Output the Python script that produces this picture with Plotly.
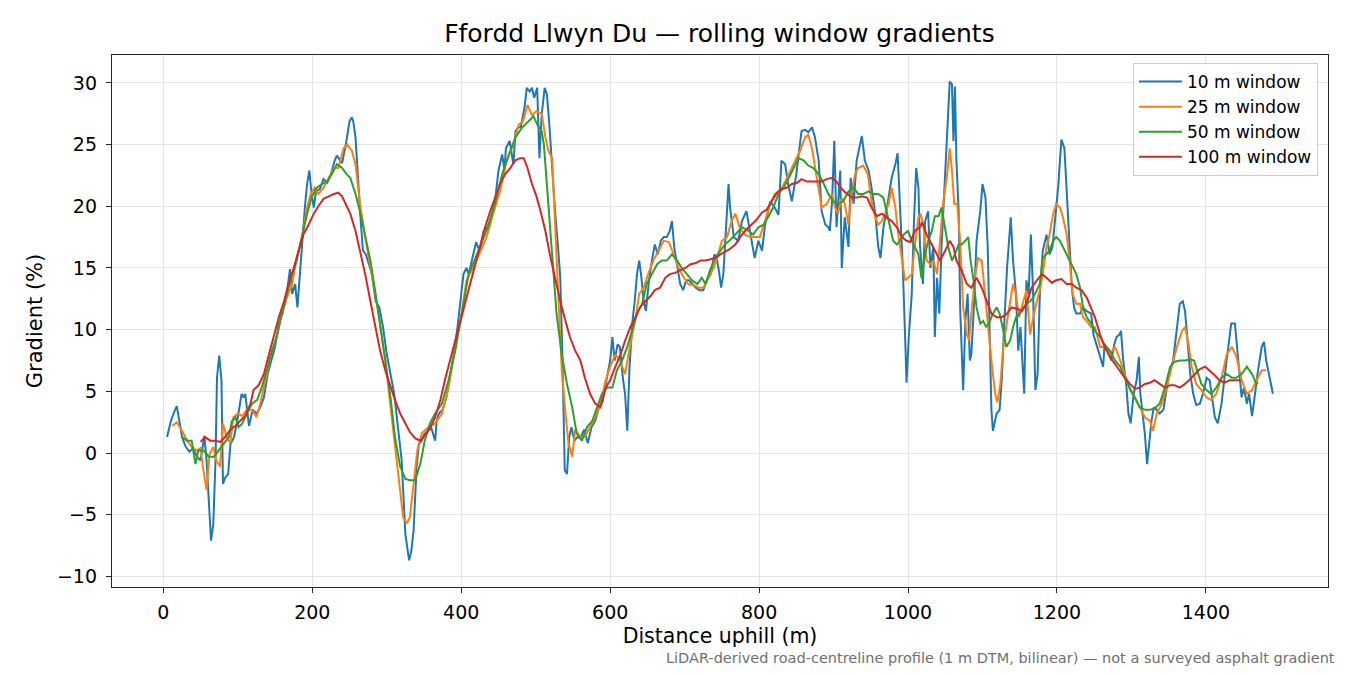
import plotly.graph_objects as go

# distance (m) / gradient (%), one pair of lists per window
d10 = [5, 10, 15, 18, 22, 25, 30, 35, 40, 45, 50, 55, 58, 62, 64, 67, 70, 72, 75, 78, 80, 83, 87, 90, 95,
       100, 105, 108, 110, 113, 115, 120, 125, 130, 135, 140, 145, 150, 155, 160, 165, 170, 173, 177, 180,
       183, 186, 190, 193, 196, 199, 202, 205, 210, 215, 220, 225, 230, 233, 237, 240, 245, 250, 253, 255,
       258, 262, 265, 268, 272, 276, 280, 285, 290, 295, 300, 310, 320, 325, 330, 333, 336, 340, 343, 347,
       350, 355, 360, 365, 367, 370, 375, 380, 385, 390, 395, 400, 403, 407, 410, 415, 420, 425, 430, 435,
       440, 445, 450, 455, 458, 460, 465, 470, 473, 477, 480, 485, 488, 492, 495, 498, 502, 505, 508, 512,
       515, 518, 522, 526, 530, 533, 536, 539, 542, 545, 548, 552, 556, 560, 565, 570, 575, 580, 585, 590,
       595, 600, 603, 606, 610, 613, 617, 620, 623, 626, 630, 633, 636, 639, 642, 645, 648, 652, 656, 660,
       664, 668, 672, 676, 680, 683, 686, 690, 694, 698, 702, 706, 710, 715, 720, 725, 730, 735, 740, 743,
       746, 749, 752, 757, 759, 761, 766, 772, 777, 783, 788, 794, 799, 804, 808, 815, 821, 826, 830, 835,
       839, 844, 850, 857, 862, 866, 871, 875, 880, 884, 889, 893, 895, 898, 901, 904, 909, 911, 915, 920,
       923, 927, 931, 938, 942, 947, 951, 956, 960, 963, 967, 971, 978, 983, 986, 989, 993, 996, 998, 1001,
       1005, 1008, 1011, 1014, 1016, 1020, 1023, 1027, 1030, 1034, 1036, 1039, 1042, 1045, 1048, 1052, 1056,
       1059, 1061, 1063, 1065, 1068, 1070, 1074, 1077, 1080, 1083, 1085, 1088, 1092, 1097, 1100, 1104, 1107,
       1109, 1112, 1114, 1119, 1123, 1126, 1129, 1133, 1138, 1141, 1145, 1148, 1151, 1154, 1156, 1159, 1162,
       1165, 1168, 1171, 1174, 1177, 1181, 1186, 1190, 1194, 1199, 1202, 1204, 1206, 1210, 1213, 1217, 1220,
       1223, 1226, 1231, 1235, 1240, 1246, 1249, 1253, 1258, 1262, 1264, 1269, 1273, 1277, 1280, 1284, 1286,
       1289, 1293, 1296, 1299, 1303, 1307, 1310, 1312, 1315, 1318, 1321, 1324, 1327, 1330, 1334, 1338, 1343,
       1347, 1352, 1356, 1361, 1365, 1369, 1372, 1375, 1379, 1383, 1387, 1392, 1396, 1401, 1405, 1407, 1412,
       1416, 1421, 1425, 1430, 1434, 1439, 1443, 1448, 1451, 1455, 1458, 1462, 1466, 1470, 1475, 1478, 1481,
       1485, 1490]
g10 = [1.3, 2.6, 3.4, 3.8, 2.4, 1.3, 0.5, 0.1, 0.4, -0.3, -0.6, 1.4, -0.6, -5.5, -7.1, -5.8, -0.6, 6.1, 7.9,
       5.9, -2.5, -2.0, -1.7, 0.7, 1.3, 2.9, 4.8, 4.5, 4.8, 3.2, 2.2, 3.5, 3.2, 3.7, 4.5, 6.4, 7.5, 8.6, 10.5,
       11.3, 12.6, 14.9, 12.9, 13.7, 11.8, 14.5, 16.7, 19.9, 21.8, 22.9, 21.0, 19.9, 21.2, 21.4, 22.2, 21.9,
       22.6, 23.7, 24.1, 23.7, 23.5, 25.0, 26.9, 27.2, 26.9, 25.6, 21.5, 18.8, 16.4, 16.1, 15.3, 14.5, 12.3,
       11.8, 10.2, 8.0, 4.8, -0.6, -6.6, -8.7, -7.9, -6.3, -1.2, 0.7, 1.0, 1.5, 1.8, 2.0, 1.0, 2.6, 3.2, 3.5,
       4.5, 6.1, 8.0, 10.2, 12.9, 14.5, 15.0, 14.5, 15.8, 17.1, 16.3, 18.0, 18.3, 19.1, 20.2, 22.9, 24.2, 22.9,
       24.7, 25.3, 23.4, 26.1, 26.4, 26.4, 28.0, 29.6, 29.3, 29.6, 28.8, 29.6, 23.9, 27.4, 29.6, 29.1, 26.9,
       22.9, 19.6, 16.7, 14.2, 7.5, -1.4, -1.7, 1.3, 2.1, 1.0, 1.3, 1.2, 1.9, 0.8, 2.1, 2.6, 3.7, 4.2, 5.9,
       7.5, 9.4, 7.5, 8.8, 8.6, 6.1, 4.8, 1.8, 7.0, 10.7, 12.3, 14.5, 15.6, 14.2, 12.3, 11.5, 13.9, 15.6, 16.9,
       16.1, 17.2, 17.5, 17.5, 18.0, 18.8, 16.7, 15.0, 13.7, 13.2, 14.0, 14.0, 13.7, 13.4, 13.2, 13.2, 14.0,
       14.5, 16.1, 15.8, 14.8, 13.4, 14.5, 20.2, 21.8, 19.9, 17.5, 17.2, 18.8, 19.6, 17.7, 15.8, 17.2, 16.4,
       18.5, 20.4, 19.9, 19.3, 23.7, 23.4, 21.8, 20.4, 22.6, 26.1, 26.2, 26.0, 26.4, 25.6, 23.7, 19.6, 18.5,
       18.3, 18.0, 20.4, 25.3, 18.3, 22.9, 15.0, 19.1, 16.7, 22.3, 20.2, 23.7, 25.7, 23.7, 22.9, 21.5, 19.4,
       16.7, 15.8, 18.3, 19.6, 22.3, 23.4, 24.3, 20.4, 15.0, 9.6, 5.7, 9.4, 12.9, 18.8, 23.1, 21.5, 16.9, 13.7,
       18.8, 19.6, 15.0, 16.7, 9.4, 14.2, 11.3, 16.7, 20.4, 25.0, 30.1, 29.9, 25.3, 29.7, 23.7, 19.6, 11.8,
       5.1, 10.7, 12.9, 7.5, 8.0, 11.3, 17.2, 19.6, 21.8, 20.7, 16.7, 10.2, 3.5, 1.8, 3.2, 3.5, 6.1, 10.2,
       15.0, 19.1, 15.6, 12.9, 8.3, 10.2, 7.5, 4.8, 14.0, 12.9, 17.7, 12.9, 5.1, 6.4, 12.9, 16.4, 17.7, 16.1,
       16.7, 19.6, 21.8, 23.7, 25.4, 24.7, 21.0, 16.4, 13.4, 11.8, 11.3, 11.3, 11.8, 11.5, 11.3, 9.6, 8.8,
       8.0, 7.0, 8.8, 8.3, 7.5, 8.8, 9.4, 9.6, 9.9, 7.5, 5.6, 3.2, 2.4, 4.8, 5.9, 7.8, 4.8, 3.2, 1.6, -0.9,
       0.8, 2.6, 3.7, 3.5, 3.2, 3.5, 5.1, 6.7, 7.5, 10.2, 12.1, 12.3, 11.5, 9.4, 6.4, 4.8, 3.9, 4.0, 4.8, 6.1,
       5.9, 5.1, 2.9, 2.4, 4.0, 6.1, 8.6, 10.5, 10.5, 7.5, 4.5, 5.3, 4.0, 4.8, 3.0, 4.8, 6.7, 8.6, 9.0, 7.5,
       6.4, 4.8]

d25 = [12, 18, 25, 32, 38, 45, 50, 53, 58, 62, 67, 71, 76, 80, 85, 90, 94, 100, 106, 112, 119, 125, 130,
       137, 144, 153, 159, 166, 173, 179, 186, 193, 198, 203, 208, 215, 222, 229, 235, 242, 247, 253, 258,
       264, 271, 280, 289, 298, 307, 316, 322, 327, 331, 336, 341, 347, 356, 365, 374, 383, 392, 401, 407,
       416, 425, 434, 443, 452, 461, 470, 477, 483, 489, 495, 501, 508, 513, 517, 522, 526, 530, 535, 540,
       544, 549, 553, 560, 566, 573, 580, 587, 594, 600, 607, 613, 620, 627, 634, 639, 645, 651, 658, 665,
       672, 679, 685, 692, 699, 705, 712, 719, 725, 732, 739, 745, 750, 757, 763, 768, 774, 781, 788, 795,
       801, 808, 815, 821, 828, 835, 842, 849, 855, 862, 866, 871, 875, 880, 884, 891, 898, 902, 906, 911,
       915, 920, 924, 929, 933, 940, 946, 951, 956, 960, 965, 969, 974, 978, 983, 987, 992, 996, 1000, 1005,
       1009, 1014, 1017, 1021, 1025, 1030, 1034, 1039, 1043, 1047, 1052, 1056, 1059, 1062, 1066, 1070, 1074,
       1079, 1082, 1085, 1090, 1094, 1099, 1103, 1108, 1112, 1117, 1120, 1124, 1128, 1133, 1137, 1141, 1145,
       1149, 1154, 1159, 1164, 1168, 1173, 1177, 1181, 1186, 1190, 1195, 1199, 1204, 1208, 1213, 1217, 1221,
       1226, 1231, 1235, 1240, 1246, 1251, 1258, 1264, 1271, 1278, 1285, 1291, 1298, 1305, 1311, 1318, 1325,
       1329, 1334, 1341, 1347, 1354, 1361, 1368, 1372, 1376, 1381, 1387, 1394, 1401, 1407, 1414, 1421, 1428,
       1435, 1441, 1448, 1455, 1462, 1468, 1475, 1481]
g25 = [2.2, 2.5, 1.8, 1.0, 0.5, 0.2, 0.4, -1.1, -3.0, -0.1, 0.5, -0.6, -1.1, 2.4, 1.3, 0.8, 2.9, 3.2, 3.0,
       3.5, 3.5, 2.9, 4.0, 5.9, 7.8, 9.6, 11.3, 12.6, 13.7, 15.8, 17.5, 19.9, 21.0, 21.5, 21.0, 21.5, 22.3,
       23.1, 23.1, 24.7, 25.0, 24.5, 23.4, 20.2, 17.5, 14.5, 11.3, 7.5, 2.6, -2.2, -5.2, -5.7, -5.2, -2.5,
       0.2, 1.6, 2.1, 2.4, 3.2, 5.3, 8.6, 11.5, 14.0, 15.0, 16.3, 17.5, 19.4, 21.2, 23.7, 25.0, 26.6, 26.9,
       28.2, 27.4, 27.7, 27.5, 25.6, 24.5, 23.9, 18.8, 12.9, 6.7, 3.2, 0.8, -0.3, 1.9, 1.3, 1.3, 2.1, 2.9,
       4.0, 5.9, 7.0, 8.0, 7.5, 6.4, 8.8, 10.9, 12.9, 13.4, 14.5, 15.6, 16.4, 17.2, 17.1, 16.1, 15.0, 14.2,
       13.7, 13.6, 13.4, 13.4, 14.2, 15.0, 16.1, 17.2, 17.5, 18.8, 19.4, 18.3, 17.7, 17.5, 17.5, 17.5, 18.8,
       20.2, 21.0, 21.2, 22.0, 22.9, 23.7, 24.5, 25.6, 25.8, 24.7, 23.1, 21.5, 19.9, 20.2, 21.0, 19.9, 19.4,
       20.7, 20.2, 18.5, 21.0, 22.6, 23.1, 23.3, 22.6, 20.4, 19.1, 18.5, 18.8, 19.4, 20.2, 21.5, 19.9, 17.7,
       15.6, 14.0, 14.2, 14.5, 16.7, 19.1, 19.4, 18.3, 15.6, 15.3, 15.6, 14.5, 17.2, 20.2, 22.3, 24.7, 22.9,
       20.2, 20.2, 17.2, 11.8, 9.6, 9.1, 11.3, 14.2, 15.8, 15.6, 12.9, 10.2, 7.5, 4.8, 4.1, 5.6, 8.6, 10.7,
       12.3, 13.7, 12.9, 11.0, 12.1, 13.2, 9.6, 11.0, 12.3, 13.2, 14.5, 16.7, 17.7, 19.4, 20.2, 19.9, 19.1,
       17.7, 15.6, 12.9, 12.1, 12.1, 11.0, 10.7, 10.2, 10.2, 8.6, 8.6, 8.0, 8.6, 7.5, 6.4, 5.1, 4.5, 3.7, 2.9,
       2.6, 1.8, 3.2, 4.0, 5.3, 7.0, 8.6, 9.9, 10.2, 9.1, 7.0, 5.6, 5.1, 4.5, 4.3, 4.8, 6.1, 8.0, 8.6, 7.8,
       5.9, 4.8, 5.1, 5.9, 6.7, 6.7]

d50 = [25, 32, 38, 43, 47, 54, 61, 68, 74, 81, 88, 92, 97, 101, 106, 112, 119, 126, 132, 139, 146, 153, 159,
       166, 173, 179, 186, 193, 199, 206, 213, 220, 226, 233, 240, 246, 251, 258, 264, 271, 278, 285, 291,
       298, 305, 311, 318, 325, 331, 338, 345, 351, 358, 365, 374, 383, 392, 401, 410, 419, 428, 437, 446,
       455, 464, 473, 482, 490, 497, 503, 508, 511, 515, 520, 524, 528, 535, 542, 549, 555, 562, 569, 576,
       582, 589, 596, 603, 609, 616, 623, 629, 636, 643, 649, 656, 663, 669, 676, 683, 690, 696, 703, 710,
       717, 723, 728, 734, 741, 748, 754, 760, 768, 777, 786, 792, 799, 806, 812, 819, 826, 833, 840, 846,
       853, 860, 866, 873, 880, 887, 893, 900, 906, 913, 920, 927, 933, 940, 947, 953, 960, 967, 971, 976,
       980, 985, 989, 994, 1000, 1005, 1009, 1014, 1018, 1023, 1027, 1032, 1036, 1041, 1045, 1050, 1054,
       1059, 1063, 1068, 1072, 1077, 1081, 1084, 1088, 1092, 1097, 1101, 1105, 1110, 1114, 1119, 1123, 1128,
       1132, 1137, 1141, 1145, 1150, 1155, 1159, 1164, 1168, 1173, 1177, 1181, 1186, 1190, 1195, 1199, 1204,
       1208, 1213, 1217, 1222, 1226, 1231, 1235, 1240, 1246, 1251, 1258, 1264, 1271, 1278, 1285, 1291, 1298,
       1305, 1311, 1318, 1325, 1331, 1338, 1345, 1352, 1358, 1365, 1372, 1379, 1384, 1388, 1394, 1401, 1407,
       1414, 1421, 1428, 1435, 1441, 1448, 1455, 1462, 1468, 1470]
g50 = [1.3, 1.0, 1.0, -0.9, 0.2, 0.2, -0.3, -0.3, 0.2, 0.8, 1.3, 2.6, 2.9, 2.1, 2.4, 3.2, 4.0, 4.3, 5.3, 6.7,
       8.3, 9.6, 11.3, 12.9, 14.5, 15.6, 17.5, 19.4, 20.7, 21.5, 21.8, 22.0, 22.6, 23.4, 23.1, 22.6, 22.3,
       21.0, 19.6, 17.7, 15.6, 12.9, 10.2, 7.5, 4.5, 1.3, -1.1, -2.1, -2.2, -2.2, -0.9, 1.0, 2.4, 3.2, 4.0,
       5.9, 8.3, 11.3, 14.5, 15.8, 17.2, 18.5, 20.4, 22.6, 24.2, 25.6, 26.4, 26.9, 27.3, 26.5, 26.1, 25.0,
       21.8, 18.5, 14.5, 11.3, 8.0, 5.6, 3.7, 1.6, 1.0, 2.1, 2.6, 3.7, 4.8, 5.3, 5.3, 6.7, 7.5, 8.6, 9.9, 11.3,
       12.1, 13.7, 14.5, 15.3, 15.6, 15.6, 16.1, 15.6, 15.0, 14.5, 14.0, 13.7, 14.2, 13.7, 14.8, 15.8, 16.4,
       16.9, 17.2, 17.7, 18.3, 18.0, 17.7, 18.3, 18.5, 19.1, 19.9, 21.0, 21.5, 22.3, 23.1, 23.9, 23.7, 23.3,
       23.1, 22.6, 21.8, 21.0, 20.4, 20.2, 20.4, 21.2, 21.5, 21.0, 21.0, 21.2, 21.0, 21.0, 20.7, 19.6, 18.3,
       17.2, 16.9, 17.2, 17.7, 18.0, 17.2, 16.7, 16.1, 14.2, 16.1, 17.2, 18.0, 19.2, 19.2, 19.9, 18.0, 16.7,
       15.6, 16.1, 16.9, 16.9, 17.2, 17.5, 15.6, 14.0, 11.8, 10.5, 10.7, 10.2, 10.7, 11.3, 11.8, 11.3, 9.9,
       8.6, 9.1, 10.2, 11.0, 11.3, 11.8, 12.1, 12.3, 12.6, 13.2, 13.7, 15.8, 16.1, 16.4, 17.2, 17.5, 17.2,
       16.7, 16.1, 15.6, 15.0, 14.5, 13.4, 11.8, 11.0, 10.5, 9.9, 9.4, 8.8, 8.3, 7.5, 7.0, 6.1, 5.3, 4.5, 3.7,
       3.5, 3.5, 3.6, 4.0, 5.3, 7.0, 7.4, 7.5, 7.5, 7.6, 7.5, 6.7, 5.6, 5.1, 4.8, 5.3, 6.1, 6.4, 6.1, 6.1,
       6.4, 7.0, 6.4, 5.6, 5.7]

d100 = [50, 56, 63, 70, 76, 83, 90, 97, 103, 110, 117, 121, 128, 135, 141, 148, 155, 162, 168, 175, 182, 188,
        195, 202, 208, 215, 222, 229, 235, 240, 247, 251, 258, 264, 271, 278, 285, 291, 298, 305, 311, 318,
        325, 331, 338, 345, 351, 358, 365, 372, 378, 385, 392, 399, 405, 412, 419, 425, 432, 439, 446, 452,
        459, 466, 472, 479, 484, 489, 495, 501, 507, 513, 519, 526, 533, 540, 546, 553, 560, 566, 573, 580,
        587, 594, 600, 607, 614, 620, 627, 634, 640, 647, 654, 660, 667, 674, 680, 687, 694, 701, 708, 715,
        721, 728, 735, 741, 748, 754, 760, 768, 777, 786, 795, 804, 810, 817, 824, 830, 837, 844, 851, 857,
        864, 871, 877, 884, 891, 898, 904, 911, 918, 925, 931, 938, 945, 951, 958, 965, 971, 978, 985, 992,
        998, 1003, 1009, 1016, 1019, 1025, 1032, 1039, 1043, 1050, 1056, 1061, 1065, 1072, 1079, 1085, 1092,
        1099, 1106, 1112, 1119, 1126, 1133, 1139, 1146, 1153, 1159, 1166, 1173, 1180, 1186, 1193, 1199, 1206,
        1213, 1220, 1226, 1233, 1240, 1246, 1251, 1258, 1264, 1271, 1278, 1285, 1291, 1298, 1305, 1311, 1318,
        1325, 1331, 1338, 1345, 1352, 1358, 1365, 1372, 1379, 1385, 1392, 1399, 1405, 1412, 1418, 1425, 1432,
        1439, 1446]
g100 = [0.9, 1.3, 1.0, 1.0, 0.9, 1.3, 1.9, 2.2, 2.6, 3.0, 4.0, 5.1, 5.5, 6.4, 7.8, 9.4, 11.0, 12.3, 13.7, 15.0,
        16.4, 17.7, 18.5, 19.4, 20.0, 20.6, 20.8, 21.0, 21.1, 20.8, 19.9, 19.4, 18.0, 16.4, 14.5, 12.3, 10.2,
        8.3, 6.7, 5.3, 4.3, 3.2, 2.4, 1.7, 1.2, 1.0, 1.4, 2.0, 2.9, 4.3, 5.9, 7.5, 9.1, 10.7, 12.3, 13.7, 15.3,
        16.7, 18.3, 19.6, 20.7, 21.8, 22.6, 23.1, 23.7, 23.9, 23.9, 23.1, 21.8, 20.8, 19.5, 18.0, 16.1, 14.2,
        12.3, 10.7, 9.4, 8.3, 7.5, 6.1, 4.8, 4.0, 3.7, 5.3, 5.9, 7.0, 8.0, 9.1, 10.2, 11.0, 11.8, 12.3, 12.7,
        13.2, 13.4, 14.2, 14.5, 14.6, 14.8, 15.0, 15.3, 15.4, 15.6, 15.6, 15.7, 15.8, 16.1, 16.3, 16.5, 16.9,
        17.7, 18.3, 18.8, 19.5, 19.7, 20.4, 21.1, 21.4, 21.5, 21.8, 21.9, 22.2, 22.0, 22.0, 22.0, 22.0, 22.2,
        22.3, 22.0, 21.4, 21.0, 20.7, 20.7, 20.8, 20.7, 19.9, 19.2, 19.4, 19.1, 18.8, 18.3, 17.5, 17.2, 17.1,
        18.0, 18.3, 18.7, 17.7, 16.9, 16.1, 15.6, 16.4, 17.2, 16.7, 15.6, 14.8, 13.7, 13.4, 14.2, 13.4, 12.3,
        11.3, 11.0, 11.0, 11.3, 11.8, 11.7, 11.5, 12.1, 13.4, 14.0, 14.5, 14.2, 13.8, 14.0, 14.1, 13.7, 13.7,
        13.4, 13.2, 12.6, 11.8, 11.0, 9.6, 8.6, 7.8, 7.2, 6.7, 6.1, 5.6, 5.2, 5.3, 5.6, 5.7, 5.9, 5.6, 5.3,
        5.5, 5.5, 5.3, 5.6, 6.0, 6.4, 6.8, 7.0, 6.7, 6.3, 5.9, 5.7, 5.9, 5.9, 5.9]

series = [
    ("10 m window", d10, g10, "#1f77b4"),
    ("25 m window", d25, g25, "#ff7f0e"),
    ("50 m window", d50, g50, "#2ca02c"),
    ("100 m window", d100, g100, "#d62728"),
]

fig = go.Figure()
for name, xs, ys, col in series:
    fig.add_trace(go.Scatter(x=xs, y=ys, mode="lines", name=name, line=dict(color=col, width=2)))

axis_style = dict(showline=True, linecolor="#262626", linewidth=1.3, mirror=True, ticks="outside",
                  ticklen=5, tickcolor="#262626", showgrid=True, gridcolor="#e4e4e4", gridwidth=1,
                  zeroline=False, tickfont=dict(size=19, color="black"))

# page has an 8 px body margin, so the figure is a bit smaller than the window
fig.update_layout(
    width=1334, height=659,
    font=dict(family="DejaVu Sans", color="black"),
    paper_bgcolor="white", plot_bgcolor="white",
    margin=dict(l=104, r=14, t=47, b=80),
    title=dict(text="Ffordd Llwyn Du — rolling window gradients", font=dict(size=25),
               x=0.5333, xanchor="center", y=0.962, yanchor="middle"),
    legend=dict(x=0.8396, y=0.985, xanchor="left", yanchor="top", bgcolor="rgba(255,255,255,0.85)",
                bordercolor="#cccccc", borderwidth=1, font=dict(size=17), itemwidth=43, tracegroupgap=0),
)
fig.update_xaxes(axis_style, range=[-69, 1564], tickvals=[0, 200, 400, 600, 800, 1000, 1200, 1400],
                 ticklabelstandoff=3,
                 title=dict(text="Distance uphill (m)", font=dict(size=20.5), standoff=6))
fig.update_yaxes(axis_style, range=[-10.86, 32.26], tickvals=[-10, -5, 0, 5, 10, 15, 20, 25, 30],
                 ticklabelstandoff=5,
                 title=dict(text="Gradient (%)", font=dict(size=21), standoff=8))

fig.add_annotation(text="LiDAR-derived road-centreline profile (1 m DTM, bilinear) — not a surveyed asphalt gradient",
                   xref="paper", yref="paper", x=1.0066, y=-0.1505, xanchor="right", yanchor="bottom",
                   showarrow=False, borderpad=0, font=dict(size=14.5, color="#707070"))

fig.write_html("out.html")
